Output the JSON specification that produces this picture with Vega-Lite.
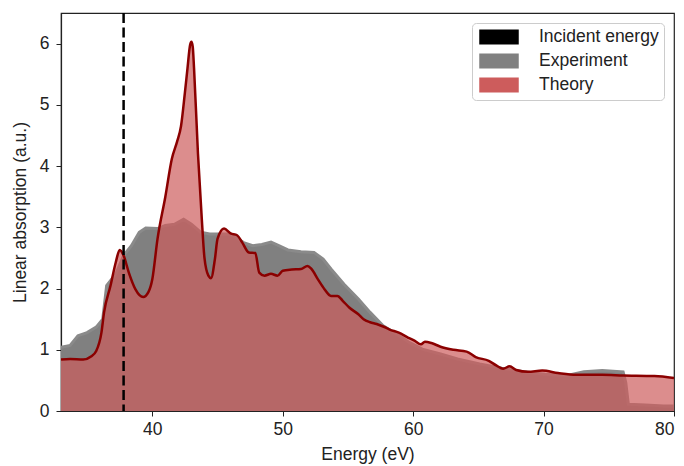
{
  "$schema": "https://vega.github.io/schema/vega-lite/v6.json",
  "width": 613,
  "height": 398,
  "autosize": {"type": "none"},
  "padding": {"left": 61, "top": 13, "right": 10, "bottom": 55},
  "config": {
    "font": "Liberation Sans",
    "view": {"stroke": "#222", "strokeWidth": 1.2},
    "axis": {"grid": false, "domainColor": "#222", "domainWidth": 1.2, "tickColor": "#222", "tickSize": 5, "labelColor": "#222", "labelFontSize": 17.5, "titleFontSize": 17.5, "titleFontWeight": "normal", "titleColor": "#222"}
  },
  "datasets": {
    "theory": [
      {"x": 33.0, "y": 0.84}, {"x": 33.7, "y": 0.85}, {"x": 34.7, "y": 0.84}, {"x": 35.3, "y": 0.89}, {"x": 35.7, "y": 0.98},
      {"x": 36.1, "y": 1.28}, {"x": 36.3, "y": 1.61}, {"x": 36.8, "y": 2.05}, {"x": 37.2, "y": 2.43}, {"x": 37.5, "y": 2.63},
      {"x": 37.8, "y": 2.54}, {"x": 38.2, "y": 2.26}, {"x": 38.7, "y": 1.99}, {"x": 39.3, "y": 1.86}, {"x": 39.7, "y": 1.94},
      {"x": 40.0, "y": 2.15}, {"x": 40.4, "y": 2.81}, {"x": 41.0, "y": 3.5}, {"x": 41.5, "y": 4.12}, {"x": 41.9, "y": 4.4},
      {"x": 42.2, "y": 4.65}, {"x": 42.5, "y": 5.2}, {"x": 42.7, "y": 5.6}, {"x": 42.9, "y": 5.98}, {"x": 43.0, "y": 6.03},
      {"x": 43.1, "y": 5.95}, {"x": 43.2, "y": 5.6}, {"x": 43.5, "y": 4.21}, {"x": 43.8, "y": 3.12}, {"x": 44.0, "y": 2.5},
      {"x": 44.3, "y": 2.21}, {"x": 44.5, "y": 2.17}, {"x": 44.8, "y": 2.48}, {"x": 45.0, "y": 2.81}, {"x": 45.5, "y": 2.98},
      {"x": 46.0, "y": 2.9}, {"x": 46.5, "y": 2.87}, {"x": 46.9, "y": 2.75}, {"x": 47.4, "y": 2.59}, {"x": 47.9, "y": 2.58},
      {"x": 48.2, "y": 2.26}, {"x": 48.6, "y": 2.21}, {"x": 49.1, "y": 2.24}, {"x": 49.6, "y": 2.21}, {"x": 50.0, "y": 2.29},
      {"x": 50.7, "y": 2.31}, {"x": 51.4, "y": 2.32}, {"x": 51.9, "y": 2.37}, {"x": 52.2, "y": 2.32}, {"x": 52.7, "y": 2.15},
      {"x": 53.2, "y": 1.99}, {"x": 53.7, "y": 1.88}, {"x": 54.2, "y": 1.88}, {"x": 54.6, "y": 1.8}, {"x": 55.1, "y": 1.69},
      {"x": 55.8, "y": 1.58}, {"x": 56.2, "y": 1.5}, {"x": 56.7, "y": 1.45}, {"x": 57.2, "y": 1.42}, {"x": 57.7, "y": 1.38},
      {"x": 58.2, "y": 1.33}, {"x": 58.9, "y": 1.28}, {"x": 59.6, "y": 1.2}, {"x": 60.1, "y": 1.15}, {"x": 60.6, "y": 1.09},
      {"x": 60.9, "y": 1.13}, {"x": 61.4, "y": 1.11}, {"x": 62.1, "y": 1.05}, {"x": 63.1, "y": 1.0}, {"x": 64.1, "y": 0.97},
      {"x": 64.8, "y": 0.88}, {"x": 65.8, "y": 0.82}, {"x": 66.4, "y": 0.74}, {"x": 66.9, "y": 0.69}, {"x": 67.4, "y": 0.73},
      {"x": 67.9, "y": 0.67}, {"x": 68.8, "y": 0.64}, {"x": 69.9, "y": 0.66}, {"x": 71.1, "y": 0.62}, {"x": 72.5, "y": 0.59},
      {"x": 74.5, "y": 0.59}, {"x": 76.1, "y": 0.58}, {"x": 78.5, "y": 0.57}, {"x": 80.0, "y": 0.54}
    ],
    "experiment": [
      {"x": 33.0, "y": 1.04}, {"x": 33.7, "y": 1.07}, {"x": 34.3, "y": 1.23}, {"x": 35.0, "y": 1.28}, {"x": 35.7, "y": 1.37},
      {"x": 36.2, "y": 1.5}, {"x": 36.5, "y": 2.05}, {"x": 37.2, "y": 2.24}, {"x": 37.8, "y": 2.54}, {"x": 38.4, "y": 2.7},
      {"x": 39.0, "y": 2.92}, {"x": 39.5, "y": 2.99}, {"x": 40.4, "y": 2.98}, {"x": 41.0, "y": 3.03}, {"x": 41.7, "y": 3.05},
      {"x": 42.4, "y": 3.13}, {"x": 43.0, "y": 3.05}, {"x": 43.7, "y": 2.92}, {"x": 44.4, "y": 2.89}, {"x": 45.0, "y": 2.89},
      {"x": 46.0, "y": 2.89}, {"x": 47.0, "y": 2.75}, {"x": 47.7, "y": 2.7}, {"x": 48.4, "y": 2.72}, {"x": 49.1, "y": 2.76},
      {"x": 49.7, "y": 2.7}, {"x": 50.4, "y": 2.63}, {"x": 51.4, "y": 2.6}, {"x": 52.4, "y": 2.59}, {"x": 53.1, "y": 2.48},
      {"x": 53.7, "y": 2.32}, {"x": 54.7, "y": 2.07}, {"x": 55.8, "y": 1.83}, {"x": 56.7, "y": 1.61}, {"x": 57.7, "y": 1.39},
      {"x": 58.7, "y": 1.26}, {"x": 59.7, "y": 1.12}, {"x": 60.7, "y": 1.01}, {"x": 62.1, "y": 0.93}, {"x": 63.4, "y": 0.85},
      {"x": 65.1, "y": 0.77}, {"x": 66.8, "y": 0.7}, {"x": 68.5, "y": 0.64}, {"x": 70.1, "y": 0.6}, {"x": 71.8, "y": 0.58},
      {"x": 73.1, "y": 0.64}, {"x": 74.5, "y": 0.66}, {"x": 76.1, "y": 0.64}, {"x": 76.3, "y": 0.47}, {"x": 76.5, "y": 0.11},
      {"x": 77.8, "y": 0.1}, {"x": 79.2, "y": 0.08}, {"x": 80.0, "y": 0.08}
    ],
    "incident": [{"x": 37.8}]
  },
  "layer": [
    {
      "data": {"name": "experiment"},
      "mark": {"type": "area", "opacity": 1, "clip": true},
      "encoding": {
        "x": {"field": "x", "type": "quantitative", "scale": {"domain": [33, 80], "nice": false, "zero": false},
              "axis": {"values": [40, 50, 60, 70, 80], "title": "Energy (eV)", "labelPadding": 4, "titlePadding": 8}},
        "y": {"field": "y", "type": "quantitative", "scale": {"domain": [0, 6.5], "nice": false},
              "axis": {"values": [0, 1, 2, 3, 4, 5, 6], "format": "d", "title": "Linear absorption (a.u.)", "labelPadding": 7, "titlePadding": 10}},
        "color": {"datum": "Experiment", "type": "nominal",
          "scale": {"domain": ["Incident energy", "Experiment", "Theory"], "range": ["black", "#808080", "indianred"]},
          "legend": {
            "title": null, "orient": "top-right", "offset": 10, "padding": 5,
            "strokeColor": "#cccccc", "fillColor": "rgba(255,255,255,0.8)", "cornerRadius": 4,
            "labelFontSize": 17.5, "labelColor": "#222", "labelFont": "Liberation Sans",
            "symbolType": "M-2.375,-0.85H2.375V0.85H-2.375Z",
            "symbolSize": 256, "symbolOffset": 13, "labelOffset": 31, "rowPadding": 4
          }}
      }
    },
    {
      "data": {"name": "experiment"},
      "mark": {"type": "line", "color": "#8a8a8a", "strokeWidth": 3, "clip": true},
      "encoding": {
        "x": {"field": "x", "type": "quantitative"},
        "y": {"field": "y", "type": "quantitative"}
      }
    },
    {
      "data": {"name": "theory"},
      "mark": {"type": "area", "opacity": 0.7, "interpolate": "monotone", "clip": true},
      "encoding": {
        "x": {"field": "x", "type": "quantitative"},
        "y": {"field": "y", "type": "quantitative"},
        "color": {"datum": "Theory", "type": "nominal"}
      }
    },
    {
      "data": {"name": "theory"},
      "mark": {"type": "line", "color": "#8b0000", "strokeWidth": 2.5, "interpolate": "monotone", "clip": true},
      "encoding": {
        "x": {"field": "x", "type": "quantitative"},
        "y": {"field": "y", "type": "quantitative"}
      }
    },
    {
      "data": {"name": "incident"},
      "mark": {"type": "rule", "strokeDash": [10, 4.5], "strokeWidth": 2.5},
      "encoding": {
        "x": {"field": "x", "type": "quantitative"},
        "color": {"datum": "Incident energy", "type": "nominal"}
      }
    }
  ]
}
